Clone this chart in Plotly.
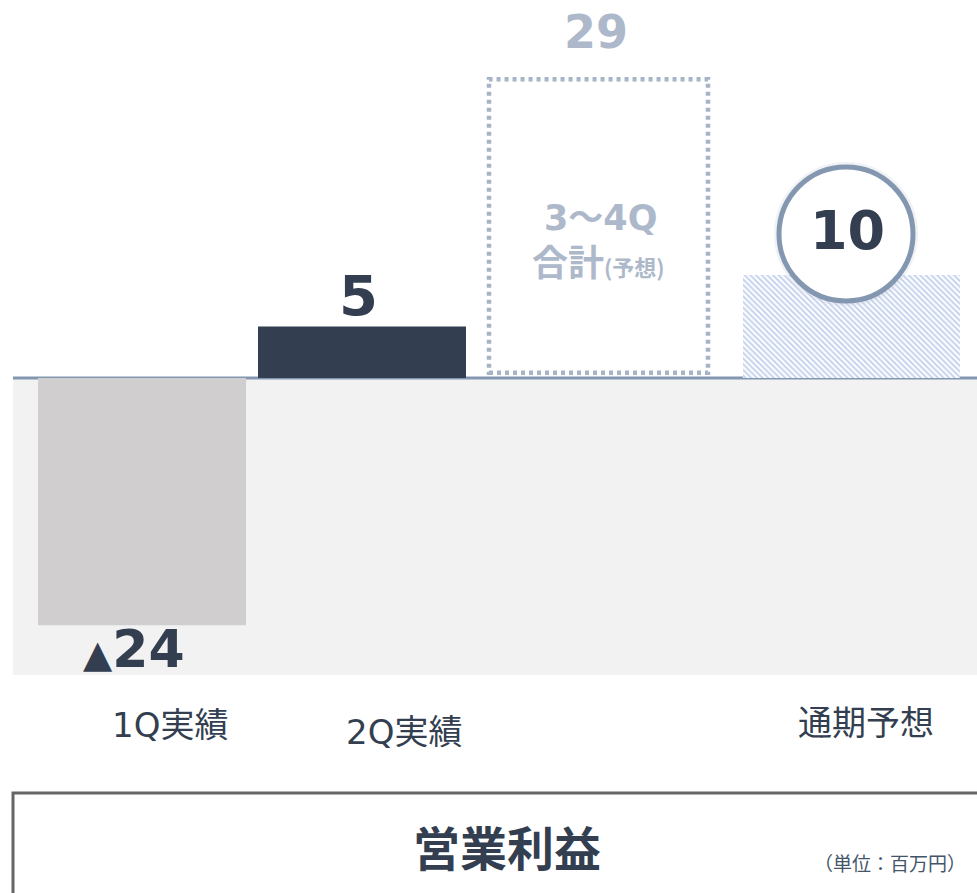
import plotly.graph_objects as go

# ---------------- data ----------------
CATEGORIES = ["1Q実績", "2Q実績", "3～4Q合計(予想)", "通期予想"]
VALUES = [-24, 5, 29, 10]
VALUE_LABELS = ["<span style='font-size:38px'>▲</span>24", "5", "29", "10"]
TITLE = "営業利益"
UNIT = "（単位：百万円）"

# ---------------- layout constants (pixels) ----------------
W, H = 977, 893
ZERO_PX = 378          # pixel row of the zero line
PX_PER_UNIT = 10.3     # vertical scale
BAR_X = [142, 362, 598.5, 851.5]
BAR_W = [208, 208, 219, 217]
LABEL_POS = [(170, 725), (404, 732), None, (866, 723)]

NAVY = "#333f50"
GRAY_BAR = "#d0cece"
BG_GRAY = "#f2f2f2"
LINE_BLUE = "#8497b0"
LIGHT = "#adb9ca"
DOTS = "#a7b4c8"
HATCH = "#8ea8dc"
FONT = "DejaVu Sans, Noto Sans CJK JP, sans-serif"
CJK = "Noto Sans CJK JP, sans-serif"

y_top = ZERO_PX / PX_PER_UNIT
y_bot = -(H - ZERO_PX) / PX_PER_UNIT


def py(p):
    """pixel row -> paper y"""
    return 1 - p / H


def px(p):
    return p / W


fig = go.Figure()

# 1Q actual (negative)
fig.add_trace(go.Bar(x=[BAR_X[0]], y=[VALUES[0]], width=[BAR_W[0]],
                     marker=dict(color=GRAY_BAR, line=dict(width=0)),
                     hoverinfo="skip", showlegend=False))
# 2Q actual
fig.add_trace(go.Bar(x=[BAR_X[1]], y=[VALUES[1]], width=[BAR_W[1]],
                     marker=dict(color=NAVY, line=dict(width=0)),
                     hoverinfo="skip", showlegend=False))
# full-year forecast (hatched)
fig.add_trace(go.Bar(x=[BAR_X[3]], y=[VALUES[3]], width=[BAR_W[3]],
                     marker=dict(color="white", line=dict(width=0),
                                 pattern=dict(shape="\\", fgcolor=HATCH, bgcolor="white",
                                              size=4, solidity=0.5)),
                     hoverinfo="skip", showlegend=False))

shapes = []
# gray background under zero line
shapes.append(dict(type="rect", xref="paper", yref="paper",
                   x0=px(13), x1=1.01, y0=py(675), y1=py(ZERO_PX),
                   fillcolor=BG_GRAY, line=dict(width=0), layer="below"))
# zero line
shapes.append(dict(type="line", xref="paper", yref="y",
                   x0=px(13), x1=1.01, y0=0, y1=0,
                   line=dict(color=LINE_BLUE, width=3), layer="below"))
# 3~4Q forecast dotted box (from data value)
shapes.append(dict(type="rect", xref="x", yref="y",
                   x0=BAR_X[2] - BAR_W[2] / 2, x1=BAR_X[2] + BAR_W[2] / 2,
                   y0=0.5, y1=VALUES[2],
                   fillcolor="rgba(0,0,0,0)",
                   line=dict(color=DOTS, width=4.5, dash="4px,4px"), layer="above"))
# circle around full-year value
cx, cy, r = 846, 234, 67
shapes.append(dict(type="circle", xref="paper", yref="paper",
                   x0=px(cx - r - 3), x1=px(cx + r + 3), y0=py(cy + r + 3), y1=py(cy - r - 3),
                   fillcolor="rgba(0,0,0,0)", line=dict(color="rgba(200,205,215,0.25)", width=4),
                   layer="above"))
shapes.append(dict(type="circle", xref="paper", yref="paper",
                   x0=px(cx - r), x1=px(cx + r), y0=py(cy + r), y1=py(cy - r),
                   fillcolor="white", line=dict(color=LINE_BLUE, width=5), layer="above"))
# bottom title box
shapes.append(dict(type="rect", xref="paper", yref="paper",
                   x0=px(13), x1=1.02, y0=-0.05, y1=py(793),
                   fillcolor="white", line=dict(color="#666666", width=3), layer="above"))

ann = []
# value labels
ann.append(dict(x=BAR_X[0] - 8, y=VALUES[0], xref="x", yref="y", text=VALUE_LABELS[0],
                showarrow=False, xanchor="center", yanchor="middle", yshift=-24,
                font=dict(family=FONT, size=52, color=NAVY, weight="bold")))
ann.append(dict(x=BAR_X[1] - 4, y=VALUES[1], xref="x", yref="y", text=VALUE_LABELS[1],
                showarrow=False, xanchor="center", yanchor="middle", yshift=31,
                font=dict(family=FONT, size=56, color=NAVY, weight="bold")))
ann.append(dict(x=BAR_X[2] - 3, y=VALUES[2], xref="x", yref="y", text=VALUE_LABELS[2],
                showarrow=False, xanchor="center", yanchor="middle", yshift=47,
                font=dict(family=FONT, size=46, color=LIGHT, weight="bold")))
ann.append(dict(x=px(847), y=py(231), xref="paper", yref="paper", text=VALUE_LABELS[3],
                showarrow=False, xanchor="center", yanchor="middle",
                font=dict(family=FONT, size=54, color=NAVY, weight="bold")))
# text inside the dotted box
ann.append(dict(x=px(600), y=py(218), xref="paper", yref="paper", text="3～4Q",
                showarrow=False, xanchor="center", yanchor="middle",
                font=dict(family=FONT, size=35, color=LIGHT, weight="bold")))
ann.append(dict(x=px(598), y=py(260), xref="paper", yref="paper",
                text="合計<span style='font-size:22px'>(予想)</span>",
                showarrow=False, xanchor="center", yanchor="middle",
                font=dict(family=CJK, size=36, color=LIGHT, weight="bold")))
# category labels
for cat, pos in zip(CATEGORIES, LABEL_POS):
    if pos is None:
        continue
    ann.append(dict(x=px(pos[0]), y=py(pos[1]), xref="paper", yref="paper", text=cat,
                    showarrow=False, xanchor="center", yanchor="middle",
                    font=dict(family=FONT, size=34, color=NAVY)))
# title and unit
ann.append(dict(x=px(507), y=py(845), xref="paper", yref="paper", text=TITLE,
                showarrow=False, xanchor="center", yanchor="middle",
                font=dict(family=CJK, size=47, color=NAVY, weight="bold")))
ann.append(dict(x=px(890), y=py(862), xref="paper", yref="paper", text=UNIT,
                showarrow=False, xanchor="center", yanchor="middle",
                font=dict(family=CJK, size=19, color="#44546a")))

fig.update_layout(
    width=W, height=H,
    margin=dict(l=0, r=0, t=0, b=0),
    paper_bgcolor="white", plot_bgcolor="rgba(0,0,0,0)",
    barmode="overlay",
    xaxis=dict(range=[0, W], visible=False, fixedrange=True),
    yaxis=dict(range=[y_bot, y_top], visible=False, fixedrange=True),
    shapes=shapes, annotations=ann,
    showlegend=False,
)

fig.write_html("out.html", config={"displayModeBar": False, "staticPlot": True},
               post_script="document.body.style.margin='0';")
